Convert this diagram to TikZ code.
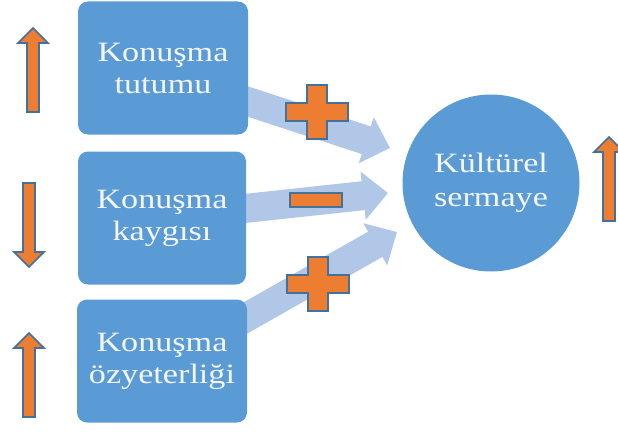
\documentclass[tikz,border=0pt]{standalone}
\usepackage{fontspec}
\usetikzlibrary{arrows.meta}
\newfontfamily\boxfont[FakeStretch=1.22]{Liberation Serif}
\definecolor{boxblue}{HTML}{5B9BD5}
\definecolor{lightarrow}{HTML}{B0C7E8}
\definecolor{orangefill}{HTML}{ED7D31}
\definecolor{edgeblue}{HTML}{41719C}
\definecolor{textwhite}{HTML}{F4F6FA}
\tikzset{
  boxnode/.style={fill=boxblue, rounded corners=10pt, text=textwhite, align=center,
    font=\boxfont\fontsize{28}{32}\selectfont, inner sep=0pt},
  circnode/.style={circle, fill=boxblue, text=textwhite, align=center,
    font=\boxfont\fontsize{28}{34}\selectfont, inner sep=0pt},
  blockarrow/.style={draw=lightarrow, line width=29pt, -{Triangle[length=25pt,width=47pt]}},
  orangeshape/.style={fill=orangefill, draw=edgeblue, line width=1.6pt, line join=miter},
  pics/uparrow/.style={code={
    \draw[orangeshape] (-6,0) -- (-6,-69) -- (-15,-69) -- (0,-84) -- (15,-69) -- (6,-69) -- (6,0) -- cycle;}},
  pics/plussign/.style={code={
    \draw[orangeshape] (-31,-9) -- (-10,-9) -- (-10,-27) -- (10,-27) -- (10,-9) -- (31,-9)
      -- (31,9) -- (10,9) -- (10,27) -- (-10,27) -- (-10,9) -- (-31,9) -- cycle;}},
  pics/minussign/.style={code={
    \draw[orangeshape] (-26,-7) rectangle (26,7);}}
}
\begin{document}
\begin{tikzpicture}[x=1pt,y=-1pt]
\useasboundingbox (0,0) rectangle (618,436);
% connectors (behind)
\coordinate (s1) at (240,99);
\coordinate (t1) at (390,148);
\coordinate (s2) at (240,209);
\coordinate (t2) at (388,193);
\coordinate (s3) at (240,321);
\coordinate (t3) at (397,232);
\draw[blockarrow] (s1) -- (t1);
\draw[blockarrow] (s2) -- (t2);
\draw[blockarrow] (s3) -- (t3);
% nodes
\node[boxnode, minimum width=170pt, minimum height=133pt] (b1) at (163,68) {Konuşma\\tutumu};
\node[boxnode, minimum width=168pt, minimum height=133pt] (b2) at (162,218) {Konuşma\\kaygısı};
\node[boxnode, minimum width=170pt, minimum height=123pt] (b3) at (162,361) {Konuşma\\özyeterliği};
\node[circnode, minimum size=177pt] (c) at (491,183) {Kültürel\\sermaye};
% signs
\pic at (317,112) {plussign};
\pic at (316,200) {minussign};
\pic at (318,284) {plussign};
% trend arrows
\pic at (33,112) {uparrow};
\pic[rotate=180] at (29,183) {uparrow};
\pic at (29,417) {uparrow};
\pic at (609,221) {uparrow};
\end{tikzpicture}
\end{document}
